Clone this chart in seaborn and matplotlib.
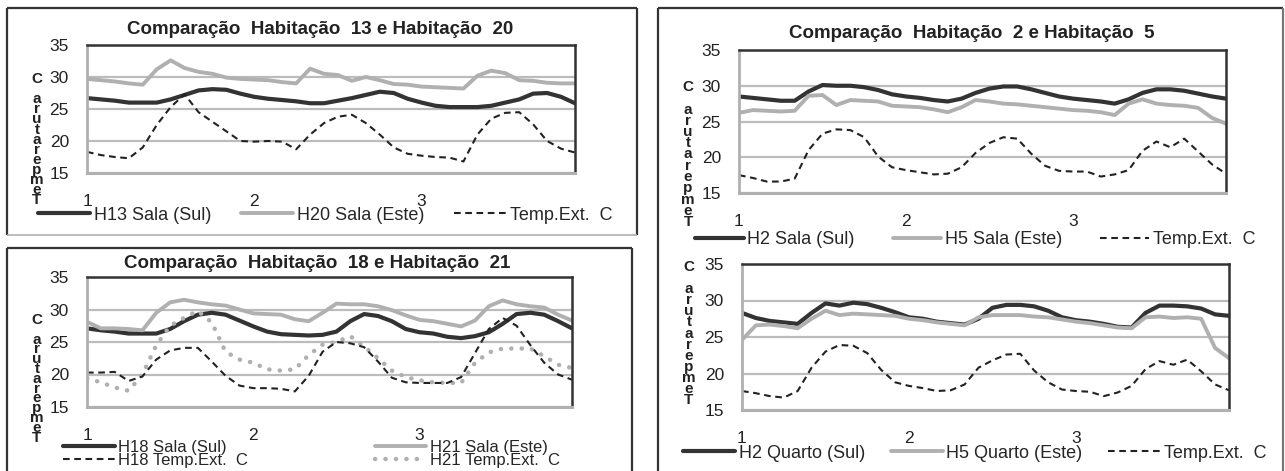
import numpy as np
import matplotlib
matplotlib.use("Agg")
import matplotlib.pyplot as plt
from matplotlib.lines import Line2D
import seaborn as sns

# ── data (2-hour readings over three days) ────────────────────────────────
hours = np.arange(36)
day_ticks = [0, 12, 24]
day_labels = ["1", "2", "3"]
temp_ticks = [15, 20, 25, 30, 35]

# Habitação 13 / 20
h13_sala = [26.7, 26.5, 26.3, 26.0, 26.0, 26.0, 26.5, 27.2, 27.9, 28.1, 28.0, 27.4,
            26.9, 26.6, 26.4, 26.2, 25.9, 25.9, 26.3, 26.7, 27.2, 27.7, 27.5, 26.6,
            26.0, 25.5, 25.3, 25.3, 25.3, 25.5, 26.0, 26.5, 27.4, 27.5, 26.9, 25.9]
h20_sala = [29.7, 29.5, 29.3, 29.0, 28.8, 31.2, 32.6, 31.4, 30.8, 30.5, 29.9, 29.7,
            29.6, 29.5, 29.2, 29.0, 31.3, 30.5, 30.3, 29.4, 30.0, 29.5, 28.9, 28.8,
            28.5, 28.4, 28.3, 28.2, 30.2, 31.0, 30.6, 29.5, 29.4, 29.1, 29.0, 29.0]
ext_13_20 = [18.3, 17.8, 17.5, 17.3, 19.0, 22.5, 25.3, 27.3, 24.5, 23.0, 21.5, 20.0,
             19.9, 20.0, 19.9, 18.7, 21.0, 22.8, 23.8, 24.1, 22.8, 21.0, 19.0, 18.0,
             17.7, 17.5, 17.4, 16.8, 21.0, 23.5, 24.4, 24.5, 22.6, 20.0, 18.8, 18.2]

# Habitação 18 / 21
h18_sala = [27.1, 26.8, 26.6, 26.3, 26.3, 26.3, 27.0, 28.2, 29.2, 29.5, 29.2, 28.3,
            27.4, 26.6, 26.2, 26.1, 26.0, 26.1, 26.6, 28.2, 29.3, 29.0, 28.2, 27.0,
            26.5, 26.3, 25.8, 25.6, 25.9, 26.5, 27.8, 29.3, 29.5, 29.2, 28.2, 27.1]
h21_sala = [28.1, 27.1, 27.1, 27.0, 26.8, 29.5, 31.1, 31.5, 31.1, 30.8, 30.6, 30.0,
            29.4, 29.3, 29.2, 28.5, 28.2, 29.5, 30.9, 30.8, 30.8, 30.5, 29.9, 29.1,
            28.4, 28.2, 27.8, 27.4, 28.3, 30.5, 31.4, 30.8, 30.5, 30.3, 29.2, 28.3]
h18_ext = [20.3, 20.3, 20.4, 19.0, 19.7, 22.3, 23.7, 24.1, 24.1, 22.0, 19.8, 18.3,
           17.9, 17.9, 17.8, 17.4, 19.8, 23.5, 25.0, 24.8, 24.2, 22.0, 19.5, 18.8,
           18.7, 18.7, 18.7, 19.6, 23.3, 27.0, 28.7, 27.5, 24.5, 21.8, 20.0, 19.2]
h21_ext = [19.4, 18.8, 18.0, 17.5, 20.0, 24.5, 27.5, 28.7, 29.8, 28.0, 23.5, 22.3,
           21.8, 20.8, 20.6, 20.8, 23.0, 24.6, 25.0, 25.9, 24.3, 22.5, 20.6, 19.6,
           19.1, 18.8, 18.7, 18.7, 21.8, 23.4, 24.0, 24.0, 24.0, 22.8, 21.5, 21.0]

# Habitação 2 / 5 - Sala
h2_sala = [28.5, 28.3, 28.1, 27.9, 27.9, 29.2, 30.1, 30.0, 30.0, 29.8, 29.4, 28.8,
           28.5, 28.3, 28.0, 27.8, 28.2, 29.0, 29.6, 29.9, 29.9, 29.5, 29.0, 28.5,
           28.2, 28.0, 27.8, 27.5, 28.1, 29.0, 29.5, 29.5, 29.3, 28.9, 28.5, 28.2]
h5_sala = [26.2, 26.6, 26.5, 26.4, 26.5, 28.6, 28.7, 27.3, 28.0, 27.9, 27.8, 27.2,
           27.1, 27.0, 26.7, 26.3, 27.0, 28.0, 27.8, 27.5, 27.4, 27.2, 27.0, 26.8,
           26.6, 26.5, 26.3, 25.9, 27.5, 28.1, 27.5, 27.3, 27.2, 26.9, 25.5, 24.7]
ext_sala = [17.5, 17.1, 16.6, 16.6, 17.0, 21.0, 23.3, 23.9, 23.8, 22.8, 20.1, 18.6,
            18.2, 17.9, 17.6, 17.7, 18.6, 20.6, 22.0, 22.8, 22.6, 20.5, 18.8, 18.1,
            18.0, 18.0, 17.3, 17.6, 18.2, 20.9, 22.2, 21.4, 22.6, 20.8, 19.0, 17.7]

# Habitação 2 / 5 - Quarto
h2_quarto = [28.3, 27.6, 27.2, 27.0, 26.8, 28.3, 29.6, 29.3, 29.7, 29.5, 29.0, 28.4,
             27.7, 27.5, 27.1, 26.9, 26.7, 27.5, 29.0, 29.4, 29.4, 29.2, 28.6, 27.7,
             27.3, 27.1, 26.8, 26.4, 26.3, 28.3, 29.3, 29.3, 29.2, 28.9, 28.1, 27.9]
h5_quarto = [24.6, 26.6, 26.7, 26.5, 26.2, 27.5, 28.6, 28.0, 28.2, 28.1, 28.0, 27.9,
             27.5, 27.3, 27.0, 26.8, 26.6, 27.7, 28.0, 28.0, 28.0, 27.8, 27.7, 27.4,
             27.1, 26.9, 26.6, 26.3, 26.2, 27.7, 27.8, 27.6, 27.7, 27.5, 23.5, 22.1]
ext_quarto = [17.6, 17.3, 16.9, 16.7, 17.6, 20.8, 23.0, 23.9, 23.8, 22.8, 20.5, 18.8,
              18.3, 18.0, 17.6, 17.7, 18.5, 20.8, 21.8, 22.6, 22.7, 20.4, 18.8, 17.8,
              17.6, 17.5, 16.9, 17.4, 18.3, 20.6, 21.7, 21.2, 21.9, 20.3, 18.5, 17.7]

sns.set_theme(style="white")
plt.rcParams['font.family'] = ['Liberation Sans', 'DejaVu Sans']

W, H = 1285, 471
DARK = '#333333'
LIGHT = '#b0b0b0'
GRID = '#bcbcbc'

fig = plt.figure(figsize=(W / 100, H / 100), dpi=100)
fig.patch.set_facecolor('white')


def px_box(x0, y0, x1, y1):
    return [x0 / W, 1 - y1 / H, (x1 - x0) / W, (y1 - y0) / H]


def fig_line(xs, ys, color=DARK, lw=1.6):
    fig.add_artist(Line2D([x / W for x in xs], [1 - y / H for y in ys],
                          color=color, lw=lw, transform=fig.transFigure,
                          solid_capstyle='butt'))


def style_axes(ax):
    ax.set_xlim(0, 35)
    ax.set_ylim(15, 35)
    ax.set_xticks(day_ticks)
    ax.set_xticklabels(day_labels)
    ax.set_yticks(temp_ticks)
    ax.set_xlabel("")
    ax.set_ylabel("")
    ax.set_axisbelow(True)
    ax.yaxis.grid(True, color=GRID, lw=1.6)
    ax.xaxis.grid(False)
    ax.spines['left'].set_color(LIGHT)
    ax.spines['left'].set_linewidth(2.0)
    ax.spines['bottom'].set_color(LIGHT)
    ax.spines['bottom'].set_linewidth(2.2)
    ax.spines['top'].set_color(DARK)
    ax.spines['top'].set_linewidth(1.8)
    ax.spines['right'].set_color(DARK)
    ax.spines['right'].set_linewidth(1.8)
    ax.tick_params(axis='y', length=0, pad=13, labelsize=12.5, labelcolor='#222222')
    ax.tick_params(axis='x', length=0, pad=15, labelsize=12.5, labelcolor='#222222')


def draw(ax, values, color, lw, ls='-', **kw):
    sns.lineplot(x=hours, y=values, ax=ax, color=color, linewidth=lw,
                 linestyle=ls, legend=False, **kw)
    return ax.lines[-1]


def stacked_label(x, y0, step):
    # "Temperatura  C" written letter by letter from the bottom up
    for k, ch in enumerate("C arutarepmeT"):
        if ch == " ":
            continue
        fig.text(x / W, 1 - (y0 + k * step) / H, ch, ha='center', va='center',
                 fontsize=11, fontweight='bold', color='#222222')


def add_legend(ax, handles, labels, x, y, ncol, hl, cs, ls=0.0, fs=13):
    ax.legend(handles, labels, loc='center left', bbox_to_anchor=(x / W, 1 - y / H),
              bbox_transform=fig.transFigure, ncol=ncol, frameon=False,
              borderpad=0, borderaxespad=0, handlelength=hl, handletextpad=0.2,
              columnspacing=cs, labelspacing=ls, fontsize=fs)


DASH = (0, (3.2, 2.2))
DOTS = (0, (0.05, 2.3))

# ── outer frames ─────────────────────────────────────────────────────────
fig_line([7, 7], [8, 235])
fig_line([7, 637], [8, 8])
fig_line([637, 637], [8, 235])
fig_line([7, 637], [235, 235], color=LIGHT, lw=1.2)
fig_line([7, 7], [248, 471])
fig_line([7, 632], [248, 248])
fig_line([632, 632], [248, 471])
fig_line([658, 658], [8, 471])
fig_line([658, 1283], [8, 8])
fig_line([1283, 1283], [8, 471], color='#777777')

# ── 1. Habitação 13 e 20 ────────────────────────────────────────────────
ax1 = fig.add_axes(px_box(87, 45, 575, 173))
l1 = draw(ax1, h13_sala, DARK, 3.0)
l2 = draw(ax1, h20_sala, LIGHT, 2.8)
l3 = draw(ax1, ext_13_20, '#222222', 1.5, DASH)
style_axes(ax1)
add_legend(ax1, [l1, l2, l3], ["H13 Sala (Sul)", "H20 Sala (Este)", "Temp.Ext.  C"],
           38, 215, 3, 2.9, 1.65)
fig.text(320 / W, 1 - 30 / H, "Comparação  Habitação  13 e Habitação  20",
         ha='center', va='center', fontsize=13.5, fontweight='bold', color='#222222')
stacked_label(37, 79, 10.1)

# ── 2. Habitação 18 e 21 ────────────────────────────────────────────────
ax2 = fig.add_axes(px_box(87, 277, 572, 407))
m1 = draw(ax2, h18_sala, DARK, 3.0)
m3 = draw(ax2, h21_sala, LIGHT, 2.8)
m4 = draw(ax2, h21_ext, LIGHT, 3.2, DOTS, dash_capstyle='round')
m2 = draw(ax2, h18_ext, '#222222', 1.5, DASH)
style_axes(ax2)
add_legend(ax2, [m1, m2, m3, m4],
           ["H18 Sala (Sul)", "H18 Temp.Ext.  C", "H21 Sala (Este)", "H21 Temp.Ext.  C"],
           63, 454, 2, 3.1, 7.6, ls=-0.15, fs=12)
fig.text(317 / W, 1 - 264 / H, "Comparação  Habitação  18 e Habitação  21",
         ha='center', va='center', fontsize=13.5, fontweight='bold', color='#222222')
stacked_label(37, 320, 9.8)

# ── 3. Habitação 2 e 5 - Sala ───────────────────────────────────────────
ax3 = fig.add_axes(px_box(739, 50, 1226, 193))
n1 = draw(ax3, h2_sala, DARK, 3.0)
n2 = draw(ax3, h5_sala, LIGHT, 2.8)
n3 = draw(ax3, ext_sala, '#222222', 1.5, DASH)
style_axes(ax3)
add_legend(ax3, [n1, n2, n3], ["H2 Sala (Sul)", "H5 Sala (Este)", "Temp.Ext.  C"],
           695, 240, 3, 2.7, 2.1)
fig.text(972 / W, 1 - 33 / H, "Comparação  Habitação  2 e Habitação  5",
         ha='center', va='center', fontsize=13.5, fontweight='bold', color='#222222')
stacked_label(688, 87, 11.25)

# ── 4. Habitação 2 e 5 - Quarto ─────────────────────────────────────────
ax4 = fig.add_axes(px_box(742, 264, 1229, 410))
q1 = draw(ax4, h2_quarto, DARK, 3.0)
q2 = draw(ax4, h5_quarto, LIGHT, 2.8)
q3 = draw(ax4, ext_quarto, '#222222', 1.5, DASH)
style_axes(ax4)
add_legend(ax4, [q1, q2, q3], ["H2 Quarto (Sul)", "H5 Quarto (Este)", "Temp.Ext.  C"],
           683, 453, 3, 2.9, 1.4)
stacked_label(689, 267, 11.1)

fig.savefig("out.png", dpi=100, facecolor='white')
